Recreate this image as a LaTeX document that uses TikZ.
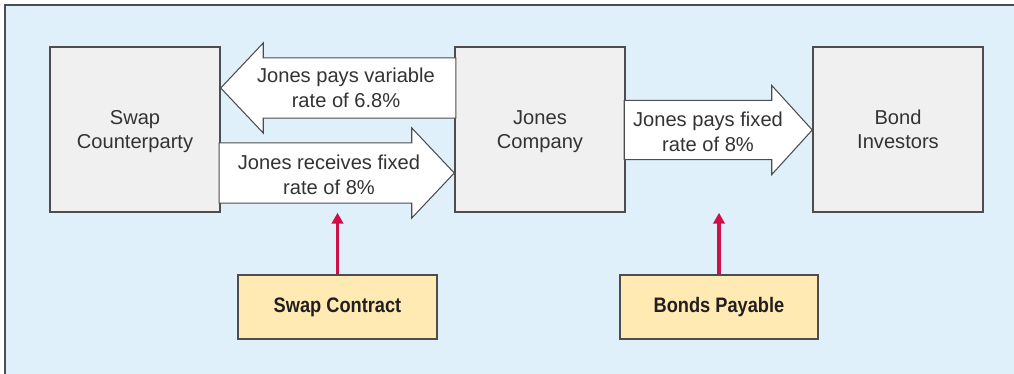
\documentclass[tikz,border=0pt]{standalone}
\usepackage{fontspec}
\setmainfont{Liberation Sans}
\newfontfamily\condsans[FakeStretch=0.87]{Liberation Sans}
\usepackage{tikz}
\usetikzlibrary{arrows.meta,positioning,shapes.arrows}
\definecolor{panelblue}{HTML}{DFF0FB}
\definecolor{framegray}{HTML}{4D4D4F}
\definecolor{partygray}{HTML}{F0F0F0}
\definecolor{textgray}{HTML}{333333}
\definecolor{notedark}{HTML}{231F20}
\definecolor{notebuff}{HTML}{FEEAB2}
\definecolor{linkred}{HTML}{CF0F4A}
\tikzset{
  % the three parties
  party/.style={draw=framegray, fill=partygray, line width=1pt,
    minimum width=4.25cm, minimum height=4.125cm, inner sep=0pt,
    align=center, text=textgray, text depth=0pt,
    font=\fontsize{14.3}{17.2}\selectfont},
  % the white block arrows (text set on top of them)
  flow/.style={single arrow, draw=framegray, fill=white, line width=0.75pt,
    inner xsep=0pt, outer sep=0pt, single arrow head extend=0.375cm,
    minimum width=2.225cm, single arrow tip angle=93.3},
  flowtext/.style={align=center, text=textgray, inner sep=0pt,
    font=\fontsize{14.3}{17.7}\selectfont},
  % the yellow source documents
  note/.style={draw=framegray, fill=notebuff, line width=1pt,
    minimum width=4.975cm, minimum height=1.6cm, inner sep=0pt,
    text=notedark, font=\condsans\bfseries\fontsize{14.9}{18}\selectfont},
  link/.style={-{Triangle[length=0.27cm,width=0.28cm]}, line width=2.3pt, color=linkred},
}
\begin{document}
\begin{tikzpicture}[x=0.025cm,y=-0.025cm]
  \useasboundingbox (0,0) rectangle (1014,374);
  \fill[panelblue] (5,5) rectangle (1014,374);
  \draw[framegray, line width=1.1pt] (5,374) -- (5,5) -- (1014,5);
  \node[party] (counter) at (135,129.5) {Swap\\Counterparty};
  \node[party] (jones) at (540,129.5) {Jones\\Company};
  \node[party] (investors) at (898,129.5) {Bond\\Investors};
  % block arrows between the parties
  \node[flow, shape border rotate=180, inner ysep=0.7375cm, minimum height=5.875cm,
    anchor=tip] (paysvar) at (counter.east |- 0,88) {};
  \node[flow, inner ysep=0.7375cm, minimum height=5.875cm,
    anchor=tip] (recfix) at (jones.west |- 0,173) {};
  \node[flow, inner ysep=0.725cm, minimum width=2.2cm, single arrow tip angle=95.4,
    minimum height=4.7cm, anchor=tip] (paysfix) at (investors.west |- 0,130) {};
  \node[flowtext] (paysvartext) at (346,88) {Jones pays variable\\rate of 6.8\%};
  \node[flowtext] (recfixtext) at (329,175) {Jones receives fixed\\rate of 8\%};
  \node[flowtext] (paysfixtext) at (708,132) {Jones pays fixed\\rate of 8\%};
  % documents and what they back
  \node[note] (swapc) at (337.5,307) {Swap Contract};
  \node[note, minimum width=4.95cm] (bondsp) at (719,307) {Bonds Payable};
  \coordinate (swaptip) at (swapc.north |- jones.south);
  \coordinate (bondtip) at (bondsp.north |- jones.south);
  \draw[link] (swapc) -- (swaptip);
  \draw[link] (bondsp) -- (bondtip);
\end{tikzpicture}
\end{document}
